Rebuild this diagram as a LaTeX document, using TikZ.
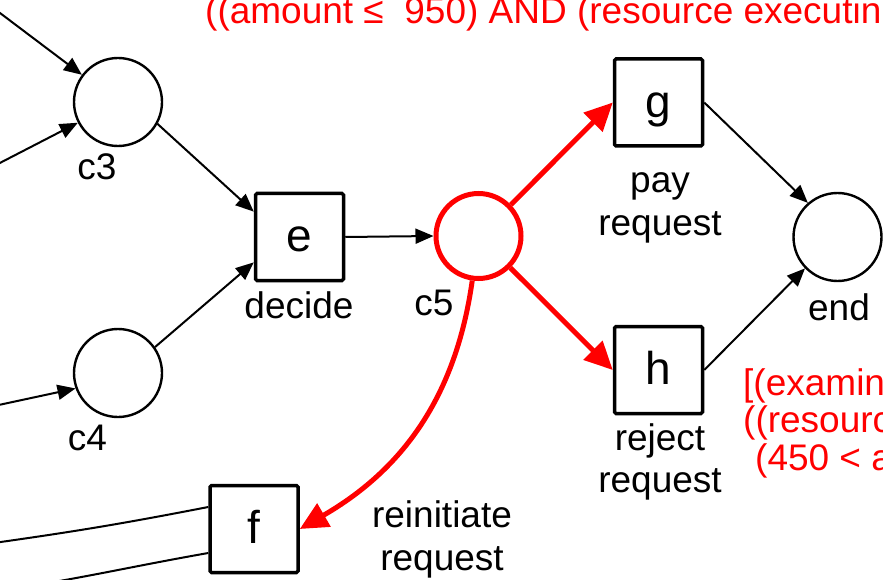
\documentclass[tikz,border=0pt]{standalone}
\usepackage{fontspec}
\setmainfont{Liberation Sans}
\usetikzlibrary{arrows.meta}
\begin{document}
\begin{tikzpicture}[x=1pt,y=-1pt,
  place/.style={circle,draw,line width=2.4pt,minimum size=88pt,inner sep=0pt},
  redplace/.style={circle,draw=red,line width=5pt,minimum size=85pt,inner sep=0pt},
  trans/.style={rectangle,draw,line width=3.5pt,minimum width=88pt,minimum height=87pt,
    rounded corners=1.5pt,inner sep=0pt,text height=33pt,text depth=3.6pt,
    font=\fontsize{46}{50}\selectfont},
  lbl/.style={anchor=base,inner sep=0pt,font=\fontsize{37}{42}\selectfont},
  redlbl/.style={anchor=base west,inner sep=0pt,text=red,font=\fontsize{37}{42}\selectfont},
  arc/.style={line width=2pt,-{Triangle[length=18pt,width=15pt]}},
  redarc/.style={draw=red,line width=5pt,-{Triangle[length=28pt,width=26pt]}},
  plain/.style={line width=2pt}]
\useasboundingbox (0,0) rectangle (883,580);
\clip (0,0) rectangle (883,580);

% places
\node[place] (c3) at (118,102) {};
\node[place] (c4) at (118,373) {};
\node[redplace] (c5) at (478.5,236) {};
\node[place] (end) at (837.5,237) {};

% transitions
\node[trans] (e) at (299.5,237) {e};
\node[trans] (g) at (658.5,102.5) {g};
\node[trans] (h) at (658.5,370) {h};
\node[trans] (f) at (254,529) {f};

% labels
\node[lbl] (lc3) at (97,180) {c3};
\node[lbl] (lc4) at (87.5,450) {c4};
\node[lbl] (ldecide) at (299,318) {decide};
\node[lbl] (lc5) at (434,315) {c5};
\node[lbl] (lend) at (839,320) {end};
\node[lbl] (lpay1) at (660,193) {pay};
\node[lbl] (lpay2) at (660,235) {request};
\node[lbl] (lrej1) at (660,450) {reject};
\node[lbl] (lrej2) at (660,492) {request};
\node[lbl] (lrei1) at (442,527) {reinitiate};
\node[lbl] (lrei2) at (442,570) {request};

% red guard texts
\node[redlbl] (gtop) at (205,24) {((amount ≤\ \ 950) AND (resource executin};
\node[redlbl] (gr1) at (743,395) {[(examin};
\node[redlbl] (gr2) at (743,432) {((resourc};
\node[redlbl] (gr3) at (755,470) {(450 < a};

% free ends
\coordinate (in1) at (-6,8.5);
\coordinate (in2) at (-6,166);
\coordinate (in3) at (-6,406);
\coordinate (ft) at (-10,543.5);
\coordinate (fb) at (-10,592);

% black arcs
\draw[arc] (in1) -- (c3);
\draw[arc] (in2) -- (c3);
\draw[arc] (in3) -- (c4.200);
\draw[arc] (c3.-29) -- (e.151);
\draw[arc] (c4.35.5) -- (e.209);
\draw[arc] (e.east) -- (c5.west);
\draw[arc] (g.east) -- (end.131);
\draw[arc] (h.east) -- (end.224);
\draw[plain] ([yshift=22pt]f.west) to[out=191,in=8] (ft);
\draw[plain] ([yshift=-24pt]f.west) to[out=190,in=8] (fb);

% red arcs
\draw[redarc] (c5.44) -- (g.west);
\draw[redarc] (c5.-45) -- (h.west);
\draw[redarc] (c5.-98) to[out=-98,in=30] (f.east);
\end{tikzpicture}
\end{document}
